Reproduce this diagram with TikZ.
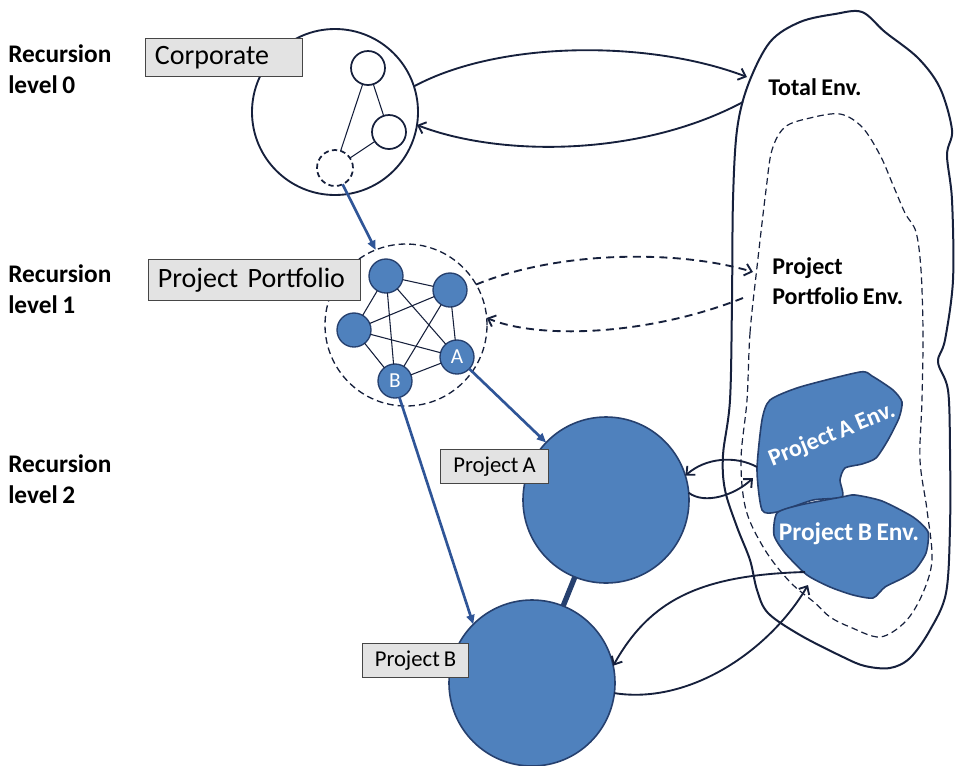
\documentclass[tikz,border=0pt]{standalone}
\usepackage{fontspec}
\setmainfont{Carlito}[WordSpace=0.8]
\usetikzlibrary{arrows.meta}
\definecolor{pblue}{RGB}{79,129,189}
\definecolor{pedge}{RGB}{38,64,110}
\definecolor{parrow}{RGB}{47,85,151}
\definecolor{ink}{RGB}{22,32,60}
\begin{document}
\begin{tikzpicture}[x=0.75pt,y=-0.75pt,
  lvl/.style={anchor=north west,align=left,inner sep=0pt,font=\fontsize{19}{23.5}\selectfont\bfseries},
  envtxt/.style={font=\fontsize{18}{23}\selectfont\bfseries,inner sep=0pt},
  tag/.style={draw=gray!55!black,fill=gray!22,line width=0.8pt,anchor=north west,inner xsep=7pt,inner ysep=0pt},
  ring/.style={circle,draw=ink,line width=1.4pt,inner sep=0pt,outer sep=0pt},
  sub/.style={circle,draw=ink,line width=1.3pt,minimum size=25.5pt,inner sep=0pt,outer sep=0pt},
  pnode/.style={circle,fill=pblue,draw=pedge,line width=1pt,minimum size=25.5pt,inner sep=0pt,outer sep=0pt,text=white,font=\fontsize{16}{16}\selectfont},
  bigp/.style={circle,fill=pblue,draw=pedge,line width=1.2pt,minimum size=124.5pt,inner sep=0pt,outer sep=0pt},
  link/.style={draw=ink,line width=0.8pt},
  bluearr/.style={draw=parrow,line width=2pt,-{Triangle[length=7pt,width=6pt]}},
  inkarr/.style={draw=ink,line width=1.4pt,-{Straight Barb[length=5pt,width=9pt]}},
  blob/.style={fill=pblue,draw=pedge,line width=1.2pt}]
  \useasboundingbox (0,0) rectangle (957,765);

  % recursion levels
  \node[lvl] (lvl0) at (8,44) {Recursion\\level 0};
  \node[lvl] (lvl1) at (8,264) {Recursion\\level 1};
  \node[lvl] (lvl2) at (8,454) {Recursion\\level 2};

  % environments
  \draw[ink,line width=1.5pt] plot[smooth cycle,tension=0.55] coordinates {
    (750,560) (737,527) (725,490) (723,455) (730,400) (732,300) (733,200)
    (737,130) (748,85) (770,42) (800,22) (835,14) (862,12) (885,32) (918,58)
    (940,88) (952,130) (947,155) (952,200) (953,280) (945,340) (938,362)
    (948,390) (950,450) (950,527) (946,593) (930,630) (910,658) (890,668)
    (865,666) (843,657) (800,635) (768,613) (757,590)};
  \draw[ink,line width=0.9pt,dash pattern=on 5pt off 3pt] plot[smooth cycle,tension=0.55] coordinates {
    (747,400) (750,333) (757,267) (766,190) (772,150) (785,127) (810,118)
    (840,114) (862,127) (880,155) (893,185) (905,213) (916,232) (921,270)
    (923,333) (922,400) (920,460) (927,510) (932,560) (922,595) (905,622)
    (880,637) (850,627) (830,617) (815,603) (790,582) (765,550) (746,510) (741,460)};
  \draw[blob] plot[smooth cycle,tension=0.4] coordinates {
    (770,400) (800,387) (860,372) (872,376) (893,390) (902,402) (899,418)
    (888,440) (876,458) (862,464) (845,468) (840,480) (842,497) (813,500)
    (777,512) (762,510) (757,470) (762,420)};
  \draw[blob] plot[smooth cycle,tension=0.4] coordinates {
    (777,513) (800,505) (842,497) (855,495) (882,501) (913,517) (928,532)
    (926,553) (915,570) (903,578) (885,587) (873,598) (853,595) (830,587)
    (807,575) (785,553) (774,535)};
  \node[envtxt,rotate=22,text=white] (envAtxt) at (832,435) {Project A Env.};
  \node[envtxt,text=white,font=\fontsize{19}{23}\selectfont\bfseries] (envBtxt) at (849,534) {Project B Env.};
  \node[envtxt] (totenv) at (815,87) {Total Env.};
  \node[envtxt,align=left,anchor=west] (ppenv) at (772,281) {Project\\Portfolio Env.};
  \coordinate (tot-in) at (747,77);
  \coordinate (tot-out) at (743,102);
  \coordinate (pp-in) at (753,272);
  \coordinate (pp-out) at (743,298);
  \coordinate (ea-out) at (757,467);
  \coordinate (ea-in) at (753,478);
  \coordinate (eb-out) at (805,572);
  \coordinate (eb-in) at (808,585);

  % corporate
  \node[ring,minimum size=124.5pt] (corp) at (335,112) {};
  \node[sub] (c1) at (368,68) {};
  \node[sub] (c2) at (389,132) {};
  \node[sub,dash pattern=on 4pt off 2.5pt,minimum size=27pt] (c3) at (335,168) {};
  \draw[link] (c1) -- (c2) (c1) -- (c3) (c2) -- (c3);

  % portfolio
  \node[ring,line width=1pt,dash pattern=on 5pt off 3pt,minimum size=121.5pt] (port) at (406,325) {};
  \node[pnode] (p1) at (386,276) {};
  \node[pnode] (p2) at (450,290) {};
  \node[pnode] (p3) at (354,330) {};
  \node[pnode] (pA) at (457,357) {A};
  \node[pnode] (pB) at (395,381) {B};
  \foreach \a/\b in {p1/p2,p1/p3,p1/pA,p1/pB,p2/p3,p2/pA,p2/pB,p3/pA,p3/pB,pA/pB}
    \draw[link] (\a) -- (\b);

  % projects
  \node[bigp] (prjA) at (606,500) {};
  \node[bigp] (prjB) at (532,683) {};
  \draw[pedge,line width=4pt] (prjA) -- (prjB);

  % tags
  \node[tag,align=left,text width=104pt,minimum height=28.5pt,font=\fontsize{21}{21}\selectfont] (corptag) at (145,38) {Corporate};
  \node[tag,align=left,text width=145pt,minimum height=30.75pt,font=\fontsize{21}{21}\selectfont] (porttag) at (148,259) {Project Portfolio};
  \node[tag,minimum width=81pt,minimum height=25.5pt,font=\fontsize{17}{17}\selectfont] (tagA) at (440,449) {Project A};
  \node[tag,minimum width=79.5pt,minimum height=25.5pt,font=\fontsize{17}{17}\selectfont] (tagB) at (362,643) {Project B};

  % arrows
  \draw[bluearr] (c3.-65) -- (port.112);
  \draw[bluearr] (pA) -- (prjA);
  \draw[bluearr] (pB.-75) -- (prjB.135);
  \draw[inkarr] (corp.18) .. controls (500,40) and (650,40) .. (tot-in);
  \draw[inkarr] (tot-out) .. controls (640,157) and (500,157) .. (corp.-9);
  \draw[inkarr,dash pattern=on 6pt off 4pt] (port.30) .. controls (560,250) and (680,250) .. (pp-in);
  \draw[inkarr,dash pattern=on 6pt off 4pt] (pp-out) .. controls (650,335) and (540,340) .. (port.5);
  \draw[inkarr] (ea-out) .. controls (735,455) and (705,458) .. (prjA.17);
  \draw[inkarr] (prjA.5) .. controls (705,505) and (735,495) .. (ea-in);
  \draw[inkarr] (eb-out) .. controls (700,575) and (650,600) .. (prjB.12);
  \draw[inkarr] (prjB.-7) .. controls (690,705) and (770,650) .. (eb-in);
\end{tikzpicture}
\end{document}
